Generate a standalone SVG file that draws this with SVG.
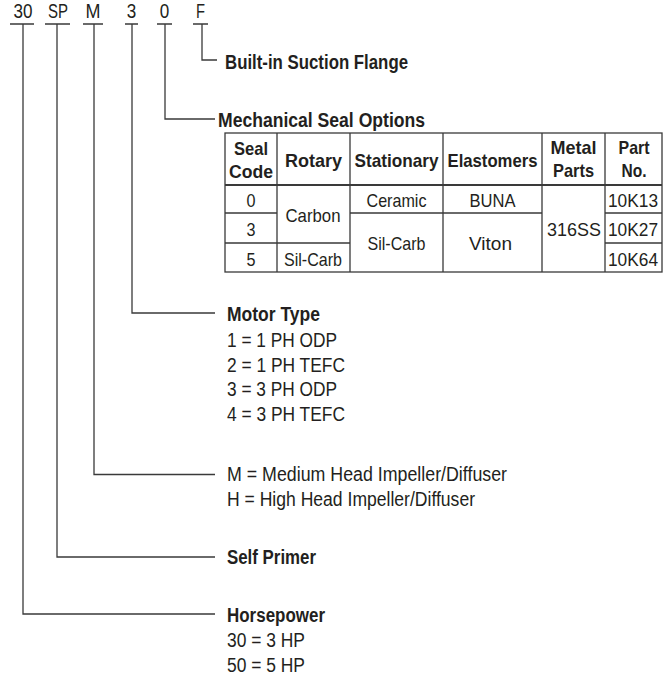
<svg xmlns="http://www.w3.org/2000/svg" width="671" height="677" viewBox="0 0 671 677">
<style>
text{font-family:"Liberation Sans",Arial,sans-serif;fill:#231f20;font-size:19.5px}
.b{font-weight:bold}
.c{text-anchor:middle}
.t{font-size:18.5px}
.k{font-size:20px}
.ln{fill:none;stroke:#3a3a3a;stroke-width:1.3}
.tb{fill:none;stroke:#3a3a3a;stroke-width:1.3}
</style>
<rect width="671" height="677" fill="#fff"/>
<g id="codes">
<text class="c k" x="23" y="18" textLength="19" lengthAdjust="spacingAndGlyphs">30</text>
<text class="c k" x="58" y="18" textLength="20" lengthAdjust="spacingAndGlyphs">SP</text>
<text class="c k" x="93" y="18" textLength="15" lengthAdjust="spacingAndGlyphs">M</text>
<text class="c k" x="131.5" y="18" textLength="9.5" lengthAdjust="spacingAndGlyphs">3</text>
<text class="c k" x="164.5" y="18" textLength="9.5" lengthAdjust="spacingAndGlyphs">0</text>
<text class="c k" x="200.5" y="18" textLength="9" lengthAdjust="spacingAndGlyphs">F</text>
</g>
<g id="connectors">
<path class="ln" d="M10 24H34M45 24H70M83 24H103M125 24H138M157 24H172M193 24H208"/>
<path class="ln" d="M202 24V60H217"/>
<path class="ln" d="M165 24V119H215"/>
<path class="ln" d="M132 24V313H215"/>
<path class="ln" d="M94 24V474.5H215"/>
<path class="ln" d="M57 24V557H215"/>
<path class="ln" d="M23 24V614H215"/>
</g>
<g id="flange">
<text class="b" x="225" y="69" textLength="183" lengthAdjust="spacingAndGlyphs">Built-in Suction Flange</text>
</g>
<g id="seal">
<text class="b" x="218" y="127" textLength="207" lengthAdjust="spacingAndGlyphs">Mechanical Seal Options</text>
<g id="seal-table">
<rect class="tb" x="225" y="133" width="437" height="139"/>
<path class="tb" d="M277 133V272M350 133V272M443 133V272M542 133V272M605 133V272"/>
<path fill="none" stroke="#3a3a3a" stroke-width="2.2" d="M225 185H662"/>
<path class="tb" d="M225 213H277M350 213H542M605 213H662M225 243H350M605 243H662"/>
<text class="b c t" x="251" y="155" textLength="34" lengthAdjust="spacingAndGlyphs">Seal</text>
<text class="b c t" x="251" y="177.5" textLength="44" lengthAdjust="spacingAndGlyphs">Code</text>
<text class="b c t" x="313.5" y="166.5" textLength="57" lengthAdjust="spacingAndGlyphs">Rotary</text>
<text class="b c t" x="396.5" y="166.5" textLength="84" lengthAdjust="spacingAndGlyphs">Stationary</text>
<text class="b c t" x="492.5" y="166.5" textLength="90" lengthAdjust="spacingAndGlyphs">Elastomers</text>
<text class="b c t" x="573.5" y="154" textLength="46" lengthAdjust="spacingAndGlyphs">Metal</text>
<text class="b c t" x="573.5" y="176.5" textLength="41" lengthAdjust="spacingAndGlyphs">Parts</text>
<text class="b c t" x="634" y="154" textLength="31" lengthAdjust="spacingAndGlyphs">Part</text>
<text class="b c t" x="634" y="176.5" textLength="25" lengthAdjust="spacingAndGlyphs">No.</text>
<text class="c t" x="251" y="207" textLength="9" lengthAdjust="spacingAndGlyphs">0</text>
<text class="c t" x="251" y="236" textLength="9" lengthAdjust="spacingAndGlyphs">3</text>
<text class="c t" x="251" y="266" textLength="9" lengthAdjust="spacingAndGlyphs">5</text>
<text class="c t" x="313" y="221.5" textLength="55" lengthAdjust="spacingAndGlyphs">Carbon</text>
<text class="c t" x="313" y="266" textLength="58" lengthAdjust="spacingAndGlyphs">Sil-Carb</text>
<text class="c t" x="396.5" y="207" textLength="60" lengthAdjust="spacingAndGlyphs">Ceramic</text>
<text class="c t" x="396.5" y="250" textLength="58" lengthAdjust="spacingAndGlyphs">Sil-Carb</text>
<text class="c t" x="492.5" y="207" textLength="46" lengthAdjust="spacingAndGlyphs">BUNA</text>
<text class="c t" x="490.5" y="250" textLength="43" lengthAdjust="spacingAndGlyphs">Viton</text>
<text class="c t" x="574" y="236" textLength="54" lengthAdjust="spacingAndGlyphs">316SS</text>
<text class="c t" x="633" y="207" textLength="50" lengthAdjust="spacingAndGlyphs">10K13</text>
<text class="c t" x="633" y="236" textLength="50" lengthAdjust="spacingAndGlyphs">10K27</text>
<text class="c t" x="633" y="266" textLength="50" lengthAdjust="spacingAndGlyphs">10K64</text>
</g>
</g>
<g id="motor">
<text class="b" x="227" y="321" textLength="93" lengthAdjust="spacingAndGlyphs">Motor Type</text>
<text x="227" y="346.5" textLength="110" lengthAdjust="spacingAndGlyphs">1 = 1 PH ODP</text>
<text x="227" y="371.5" textLength="118" lengthAdjust="spacingAndGlyphs">2 = 1 PH TEFC</text>
<text x="227" y="396" textLength="110" lengthAdjust="spacingAndGlyphs">3 = 3 PH ODP</text>
<text x="227" y="421" textLength="118" lengthAdjust="spacingAndGlyphs">4 = 3 PH TEFC</text>
</g>
<g id="impeller">
<text x="227" y="481" textLength="280" lengthAdjust="spacingAndGlyphs">M = Medium Head Impeller/Diffuser</text>
<text x="227" y="505.5" textLength="248" lengthAdjust="spacingAndGlyphs">H = High Head Impeller/Diffuser</text>
</g>
<g id="primer">
<text class="b" x="227" y="563.5" textLength="89" lengthAdjust="spacingAndGlyphs">Self Primer</text>
</g>
<g id="horsepower">
<text class="b" x="227" y="621.5" textLength="98" lengthAdjust="spacingAndGlyphs">Horsepower</text>
<text x="227" y="646.5" textLength="78" lengthAdjust="spacingAndGlyphs">30 = 3 HP</text>
<text x="227" y="671.5" textLength="78" lengthAdjust="spacingAndGlyphs">50 = 5 HP</text>
</g>
</svg>
